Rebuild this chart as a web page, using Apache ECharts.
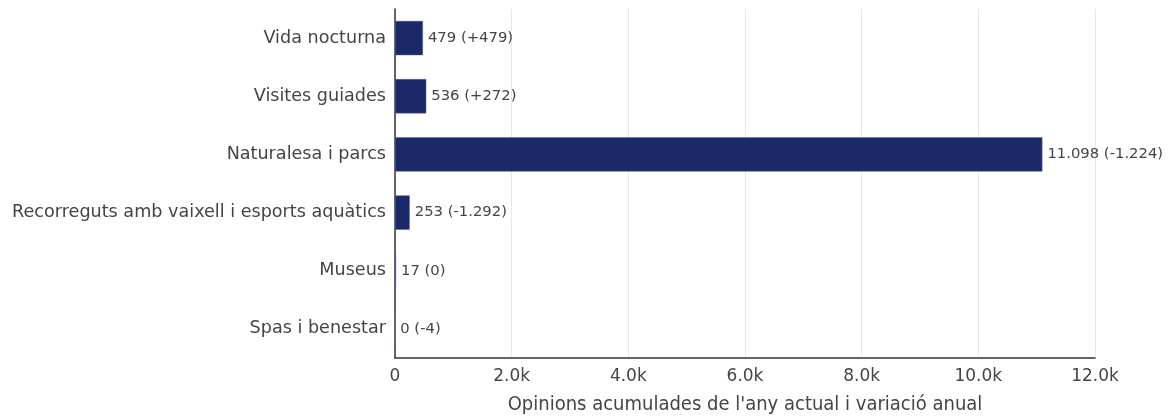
<!DOCTYPE html>
<html><head><meta charset="utf-8">
<script src="https://cdn.jsdelivr.net/npm/echarts@6/dist/echarts.min.js"></script>
<style>html,body{margin:0;padding:0;background:#fff}#c{width:1173px;height:417px}</style>
</head><body><div id="c"></div>
<script>
const categories = ["Vida nocturna","Visites guiades","Naturalesa i parcs","Recorreguts amb vaixell i esports aquàtics","Museus","Spas i benestar"];
const values = [479, 536, 11098, 253, 17, 0];
const changes = [479, 272, -1224, -1292, 0, -4];
const xTicks = [0, 2000, 4000, 6000, 8000, 10000, 12000];

function fmt(n){
  const s = Math.abs(n).toString().replace(/\B(?=(\d{3})+(?!\d))/g, ".");
  return (n < 0 ? "-" : "") + s;
}
function fmtChange(n){ return n > 0 ? "+" + fmt(n) : fmt(n); }

const chart = echarts.init(document.getElementById('c'), null, {renderer:'canvas'});
chart.setOption({
  animation:false,
  textStyle:{fontFamily:'DejaVu Sans'},
  grid:{left:395, right:78, top:9, bottom:59, containLabel:false, outerBoundsMode:'none'},
  xAxis:{
    type:'value', min:xTicks[0], max:xTicks[xTicks.length-1], interval:2000,
    name:"Opinions acumulades de l'any actual i variació anual",
    nameLocation:'middle', nameGap:37,
    nameTextStyle:{fontSize:20, color:'#444', fontFamily:'DejaVu Sans Condensed', verticalAlign:'top'},
    axisLine:{show:true, lineStyle:{color:'#333', width:1.5}},
    axisTick:{show:false},
    axisLabel:{fontSize:17, color:'#444', margin:10,
      formatter:v => v === 0 ? '0' : (v/1000).toFixed(1) + 'k'},
    splitLine:{show:true, lineStyle:{color:'#e8e8e8', width:1}}
  },
  yAxis:{
    type:'category', data:categories, inverse:true,
    axisLine:{show:true, lineStyle:{color:'#333', width:1.5}},
    axisTick:{show:false},
    axisLabel:{fontSize:17.6, color:'#444', margin:9},
    splitLine:{show:false}
  },
  series:[{
    type:'bar', data:values, barWidth:'59%',
    itemStyle:{color:'#1c2969', borderColor:'#5a66a0', borderWidth:0.5},
    label:{show:true, position:'right', distance:5, fontSize:14.8, color:'#444',
      formatter:p => fmt(values[p.dataIndex]) + ' (' + fmtChange(changes[p.dataIndex]) + ')'}
  }]
});
</script></body></html>
